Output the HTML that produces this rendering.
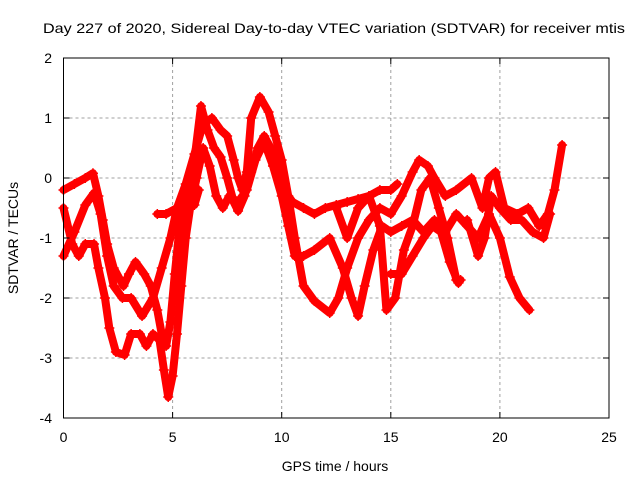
<!DOCTYPE html>
<html><head><meta charset="utf-8"><style>
html,body{margin:0;padding:0;background:#fff;}
svg{display:block;font-family:"Liberation Sans",sans-serif;}
</style></head><body>
<svg id="chart" width="640" height="480" viewBox="0 0 640 480">
<rect width="640" height="480" fill="#fff"/>
<text x="334" y="33" font-size="14" text-anchor="middle" textLength="582" lengthAdjust="spacingAndGlyphs">Day 227 of 2020, Sidereal Day-to-day VTEC variation (SDTVAR) for receiver mtis</text>
<text x="335" y="471" font-size="14" text-anchor="middle">GPS time / hours</text>
<text x="0" y="0" font-size="14" text-anchor="middle" transform="translate(18,238) rotate(-90)">SDTVAR / TECUs</text>
<g id="grid"></g>
<g id="marks"></g>
<rect x="63.5" y="58" width="545.5" height="360" fill="none" stroke="#000" stroke-width="1"/>
<g id="ticks"></g>
</svg>
<script>
const xTicks=[0,5,10,15,20,25];
const yTicks=[2,1,0,-1,-2,-3,-4];
const seriesA=[[0,-0.2],[0.5,-0.1],[1.0,0.0],[1.35,0.08],[1.6,-0.3],[1.8,-0.7],[2.0,-1.1],[2.3,-1.5],[2.75,-1.8],[3.0,-1.6],[3.3,-1.4],[3.7,-1.6],[4.0,-1.8],[4.3,-2.2],[4.5,-2.6],[4.7,-2.8],[4.9,-2.4],[5.1,-1.6],[5.3,-0.9],[5.5,-0.5],[5.8,-0.2],[6.0,0.3],[6.3,1.2],[6.6,0.8],[6.9,0.5],[7.2,0.35],[7.5,0.0],[7.8,-0.4],[8.0,-0.55],[8.3,-0.3],[8.6,0.1],[8.9,0.5],[9.2,0.7],[9.5,0.5],[9.8,0.1],[10.1,-0.2],[10.5,-0.4],[11,-0.5],[11.5,-0.6],[12,-0.5],[12.5,-0.45],[13,-0.4],[13.5,-0.35],[14,-0.3],[14.5,-0.2],[15.0,-0.2],[15.3,-0.1]];
const seriesB=[[0,-1.3],[0.5,-0.9],[1.0,-0.45],[1.4,-0.25],[1.7,-0.6],[2.0,-1.3],[2.3,-1.8],[2.7,-2.0],[3.1,-2.0],[3.6,-2.3],[4.1,-2.0],[4.5,-1.5],[4.9,-1.0],[5.2,-0.5],[5.6,-0.1],[6.0,0.4],[6.4,0.9],[6.8,1.0],[7.2,0.8],[7.5,0.7],[7.8,0.3],[8.0,0.0],[8.2,-0.2],[8.4,0.1],[8.6,1.0],[9.0,1.35],[9.4,1.1],[9.7,0.7],[10.0,0.3],[10.3,-0.3],[10.6,-1.0],[11.0,-1.8],[11.5,-2.05],[12.2,-2.25],[12.6,-2.0],[13.0,-1.5],[13.5,-1.0],[14.0,-0.7],[14.5,-0.5],[15.0,-0.6],[15.5,-0.3],[16.0,0.1],[16.3,0.3],[16.7,0.2],[17.0,0.0],[17.5,-0.3],[18.0,-0.2],[18.7,0.0],[19.2,-0.5],[19.5,0.0],[19.8,0.1],[20.2,-0.5],[20.8,-0.6],[21.3,-0.5],[21.8,-0.8],[22.2,-0.6],[22.5,-0.2],[22.85,0.55]];
const seriesC=[[0,-0.5],[0.4,-1.1],[0.7,-1.3],[1.0,-1.1],[1.4,-1.1],[1.6,-1.5],[1.9,-2.0],[2.1,-2.5],[2.4,-2.9],[2.8,-2.95],[3.1,-2.6],[3.5,-2.6],[3.8,-2.8],[4.1,-2.6],[4.4,-2.7],[4.6,-3.2],[4.8,-3.65],[5.0,-3.3],[5.2,-2.6],[5.4,-1.8],[5.6,-1.0],[5.8,-0.5],[6.1,0.0],[6.4,0.5],[6.7,0.2],[7.0,-0.3],[7.3,-0.5],[7.6,-0.3],[8.0,-0.4],[8.4,-0.2],[8.8,0.3],[9.2,0.6],[9.6,0.2],[10.0,-0.3],[10.3,-0.8],[10.6,-1.3],[11.0,-1.3],[11.5,-1.2],[12.2,-1.0],[12.8,-1.5],[13.2,-2.0],[13.5,-2.3],[13.8,-1.8],[14.2,-1.2],[14.6,-0.8],[15.0,-0.9],[15.5,-0.8],[16.0,-0.7],[16.5,-0.9],[17.0,-0.7],[17.5,-0.9],[18.0,-0.6],[18.5,-0.8],[19.0,-1.0],[19.5,-0.6],[20.0,-1.0],[20.45,-1.65],[20.9,-2.0],[21.35,-2.2]];
const seriesD=[[4.3,-0.6],[4.7,-0.6],[5.2,-0.5],[5.7,-0.4],[6.0,-0.45],[6.2,-0.2]];
const seriesE=[[12.5,-0.5],[13.0,-1.0],[13.5,-0.5],[14.0,-0.3],[14.5,-0.8],[14.8,-2.2],[15.2,-2.0],[15.6,-1.2],[16.0,-0.8],[16.4,-0.2],[16.8,0.0],[17.2,-0.5],[17.6,-1.0],[18.0,-1.7],[18.2,-1.7]];
const seriesF=[[15.0,-1.6],[15.5,-1.6],[16.0,-1.3],[16.5,-1.0],[16.9,-0.8],[17.3,-0.9],[17.7,-1.4],[18.1,-1.75]];
const seriesG=[[18.5,-0.7],[19.0,-1.3],[19.3,-1.0],[19.6,-0.3],[20.0,-0.5],[20.5,-0.7],[21.0,-0.7],[21.5,-0.9],[22.0,-1.0],[22.3,-0.6]];
const allSeries=[seriesA,seriesB,seriesC,seriesD,seriesE,seriesF,seriesG];
const seriesNames=['series-a','series-b','series-c','series-d','series-e','series-f','series-g'];

const X0=63.5,XR=609,YT=58,YB=418,xMin=0,xMax=25,yMin=-4,yMax=2;
function sx(v){return X0+(v-xMin)/(xMax-xMin)*(XR-X0);}
function sy(v){return YB-(v-yMin)/(yMax-yMin)*(YB-YT);}
const NS='http://www.w3.org/2000/svg';
function mk(tag,attrs,parent){const e=document.createElementNS(NS,tag);for(const k in attrs)e.setAttribute(k,attrs[k]);parent.appendChild(e);return e;}
const grid=document.getElementById('grid'),ticks=document.getElementById('ticks'),marks=document.getElementById('marks');
xTicks.forEach(t=>{
  const x=sx(t);
  if(t>xMin&&t<xMax){const g=mk('line',{x1:x,x2:x,y1:YT,y2:YB,stroke:'#a0a0a0','stroke-dasharray':'3,3','stroke-width':1},grid);
  
  }
  const l=mk('text',{x:x,y:442,'font-size':14,'text-anchor':'middle'},ticks);l.textContent=t;
  
  
});
yTicks.forEach(t=>{
  const y=sy(t);
  if(t>yMin&&t<yMax){const g=mk('line',{x1:X0,x2:XR,y1:y,y2:y,stroke:'#a0a0a0','stroke-dasharray':'3,3','stroke-width':1},grid);
  
  
  mk('line',{x1:X0,x2:X0+6,y1:y,y2:y,stroke:'#000'},ticks);mk('line',{x1:XR-6,x2:XR,y1:y,y2:y,stroke:'#000'},ticks);}
  const l=mk('text',{x:52,y:y+5,'font-size':14,'text-anchor':'end'},ticks);l.textContent=t;
  
  
});
xTicks.forEach(t=>{if(t>xMin&&t<xMax){const x=sx(t);mk('line',{x1:x,x2:x,y1:YB-6,y2:YB,stroke:'#000'},ticks);mk('line',{x1:x,x2:x,y1:YT,y2:YT+6,stroke:'#000'},ticks);}});
allSeries.forEach((s,i)=>{
  const g=mk('g',{},marks);
  
  
  const pts=s.map(p=>sx(p[0]).toFixed(1)+','+sy(p[1]).toFixed(1)).join(' ');
  mk('polyline',{points:pts,fill:'none',stroke:'#ff0000','stroke-width':8,'stroke-linejoin':'round','stroke-linecap':'round'},g);
  s.forEach(p=>{
    const x=sx(p[0]),y=sy(p[1]);
    const m=mk('path',{d:`M${x-5},${y}H${x+5}M${x},${y-5}V${y+5}`,stroke:'#ff0000','stroke-width':1.5},g);
    
    
  });
});
</script>
</body></html>
